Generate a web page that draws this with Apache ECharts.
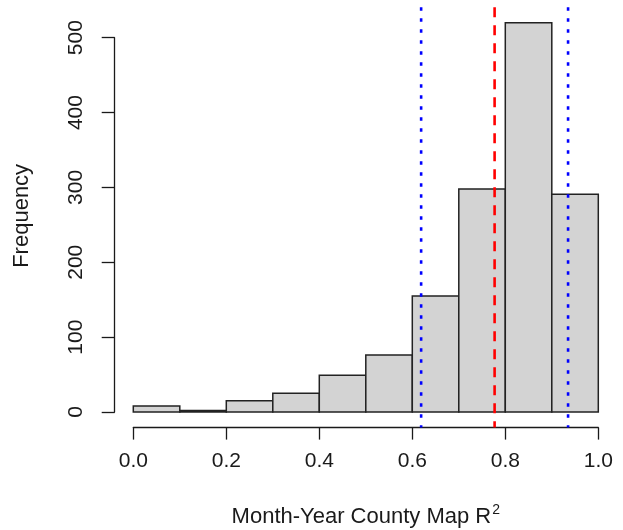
<!DOCTYPE html>
<html>
<head>
<meta charset="utf-8">
<style>
  html, body { margin: 0; padding: 0; background: #fff; }
  #chart { width: 623px; height: 530px; }
</style>
<script src="https://cdn.jsdelivr.net/npm/echarts@6/dist/echarts.min.js"></script>
</head>
<body>
<div id="chart"></div>
<script>
// Histogram bins (lower / upper edges) and counts
var binStarts = [0.0, 0.1, 0.2, 0.3, 0.4, 0.5, 0.6, 0.7, 0.8, 0.9];
var binEnds   = [0.1, 0.2, 0.3, 0.4, 0.5, 0.6, 0.7, 0.8, 0.9, 1.0];
var counts    = [8, 2, 15, 25, 49, 76, 155, 298, 520, 291];

// Reference lines
var medianLine = [0.777];
var quantileLines = [0.619, 0.935];

// Tick values
var xTicks = [0.0, 0.2, 0.4, 0.6, 0.8, 1.0];
var yTicks = [0, 100, 200, 300, 400, 500];

// R-style plot region extents (4% padding around data range)
var yDataMax = Math.max.apply(null, counts);
var yLo = -0.04 * yDataMax;
var yHi = yDataMax * 1.04;

var chart = echarts.init(document.getElementById('chart'), null, { renderer: 'canvas' });

var font = 'Liberation Sans, Arial, sans-serif';
var ink = '#1a1a1a';

var binData = binStarts.map(function (s, i) { return [s, binEnds[i], counts[i]]; });

function vlineSeries(values, color, dash) {
  return {
    type: 'custom',
    clip: false,
    silent: true,
    z: 5,
    data: values.map(function (v) { return [v]; }),
    renderItem: function (params, api) {
      var x = api.value(0);
      var p1 = api.coord([x, yHi]);
      var p2 = api.coord([x, yLo]);
      return {
        type: 'line',
        shape: { x1: p1[0], y1: p1[1], x2: p2[0], y2: p2[1] },
        style: { stroke: color, lineWidth: 2.6, lineDash: dash, lineCap: 'butt' }
      };
    }
  };
}

var option = {
  animation: false,
  backgroundColor: '#ffffff',
  grid: { left: 133.3, right: 24.7, top: 37.7, bottom: 118, containLabel: false, outerBoundsMode: 'none' },
  xAxis: {
    type: 'value',
    min: xTicks[0],
    max: xTicks[xTicks.length - 1],
    interval: 0.2,
    offset: 15.6,
    splitLine: { show: false },
    axisLine: { show: true, onZero: false, lineStyle: { color: ink, width: 1.3 } },
    axisTick: { show: true, length: 12, lineStyle: { color: ink, width: 1.3 } },
    axisLabel: {
      color: ink, fontFamily: font, fontSize: 21, margin: 23.5,
      formatter: function (v) { return v.toFixed(1); }
    },
    name: '{a|Month-Year County Map R}{s|2}',
    nameLocation: 'middle',
    nameGap: 76,
    nameTextStyle: {
      rich: {
        a: { fontFamily: font, fontSize: 22, color: ink },
        s: { fontFamily: font, fontSize: 14, color: ink, verticalAlign: 'top', padding: [0, 0, 12, 1] }
      }
    }
  },
  yAxis: {
    type: 'value',
    min: yTicks[0],
    max: yTicks[yTicks.length - 1],
    interval: 100,
    offset: 18.6,
    splitLine: { show: false },
    axisLine: { show: true, onZero: false, lineStyle: { color: ink, width: 1.3 } },
    axisTick: { show: true, length: 13, lineStyle: { color: ink, width: 1.3 } },
    axisLabel: { color: ink, fontFamily: font, fontSize: 21, rotate: 90, margin: 28 },
    name: 'Frequency',
    nameLocation: 'middle',
    nameRotate: 90,
    nameGap: 82,
    nameTextStyle: { fontFamily: font, fontSize: 22, color: ink, padding: [0, 0, 0, 18] }
  },
  series: [
    {
      type: 'custom',
      clip: false,
      z: 2,
      data: binData,
      renderItem: function (params, api) {
        var tl = api.coord([api.value(0), api.value(2)]);
        var br = api.coord([api.value(1), 0]);
        return {
          type: 'rect',
          shape: { x: tl[0], y: tl[1], width: br[0] - tl[0], height: br[1] - tl[1] },
          style: { fill: '#d3d3d3', stroke: '#222222', lineWidth: 1.5 }
        };
      }
    },
    vlineSeries(quantileLines, '#0000ff', [3.5, 7.5]),
    vlineSeries(medianLine, '#ff0000', [10, 8])
  ]
};

chart.setOption(option);
</script>
</body>
</html>
